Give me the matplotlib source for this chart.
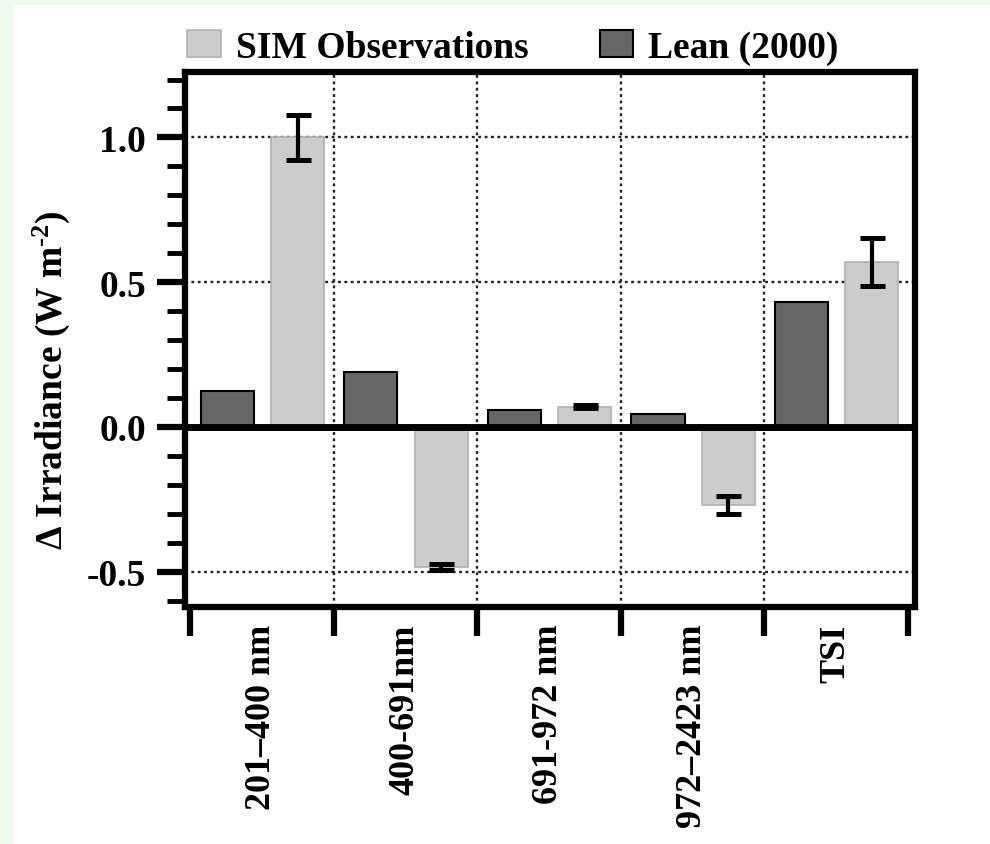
import matplotlib
matplotlib.use("Agg")
import matplotlib.pyplot as plt
import numpy as np
from matplotlib.patches import Rectangle
from matplotlib.ticker import MultipleLocator

# data
categories = ["201–400 nm", "400-691nm", "691-972 nm", "972–2423 nm", "TSI"]
sim = [1.00, -0.485, 0.07, -0.27, 0.57]
sim_err = [0.078, 0.01, 0.005, 0.031, 0.083]
lean = [0.125, 0.19, 0.06, 0.045, 0.433]

plt.rcParams["font.family"] = ["Liberation Serif", "DejaVu Serif"]
plt.rcParams["font.weight"] = "bold"
plt.rcParams["axes.labelweight"] = "bold"
plt.rcParams["mathtext.fontset"] = "custom"
plt.rcParams["mathtext.rm"] = "Liberation Serif:bold"
plt.rcParams["mathtext.bf"] = "Liberation Serif:bold"
plt.rcParams["mathtext.default"] = "bf"

fig = plt.figure(figsize=(9.9, 8.45), dpi=100)
fig.patch.set_facecolor("#f0fbef")
# white panel
fig.patches.append(Rectangle((14 / 990, 0), 1, 1 - 6 / 845, transform=fig.transFigure,
                             facecolor="white", edgecolor="none", zorder=-10))

ax = fig.add_axes([185 / 990, 1 - 608 / 845, 730 / 990, 535 / 845])
ax.set_facecolor("white")

x = np.arange(len(categories))
w = 0.37
ax.bar(x - 0.24, lean, w, color="#666666", edgecolor="black", linewidth=1.5,
       label="Lean (2000)", zorder=3)
ax.bar(x + 0.25, sim, w, color="#cccccc", edgecolor="#b0b0b0", linewidth=1.2,
       label="SIM Observations", zorder=3)
ax.errorbar(x + 0.25, sim, yerr=sim_err, fmt="none", ecolor="black", elinewidth=3,
            capsize=9, capthick=3.6, zorder=4)

ax.axhline(0, color="black", linewidth=5, zorder=5)

ax.set_xlim(-0.535, 4.55)
ax.set_ylim(-0.622, 1.226)

# grid
for yv in [1.0, 0.5, -0.5]:
    ax.axhline(yv, color="#222222", linestyle=(0, (1.2, 1.5)), linewidth=1.7, zorder=1)
for xv in [0.5, 1.5, 2.5, 3.5]:
    ax.axvline(xv, color="#222222", linestyle=(0, (1.2, 1.5)), linewidth=1.7, zorder=1)

for s in ax.spines.values():
    s.set_linewidth(4.5)

ax.yaxis.set_major_locator(MultipleLocator(0.5))
ax.yaxis.set_minor_locator(MultipleLocator(0.1))
ax.set_yticks([-0.5, 0.0, 0.5, 1.0])
ax.set_yticklabels(["-0.5", "0.0", "0.5", "1.0"])
ax.tick_params(axis="y", which="major", direction="out", length=20, width=4.5,
               labelsize=27, pad=8)
ax.tick_params(axis="y", which="minor", direction="out", length=13, width=3.5)

ax.set_xticks(np.arange(-0.5, len(categories), 1.0))
ax.set_xticklabels([])
ax.set_xticks(x, minor=True)
ax.set_xticklabels(categories, minor=True, rotation=90, fontsize=26, va="top")
ax.tick_params(axis="x", which="major", direction="out", length=21, width=4.5)
ax.tick_params(axis="x", which="minor", length=0, pad=12)

ax.set_ylabel(r"Δ Irradiance (W m$^{\text{-2}}$)", fontsize=27, fontweight="bold")
ax.yaxis.set_label_coords(-0.155, 0.426)

handles, labels = ax.get_legend_handles_labels()
fig.legend(handles[::-1], labels[::-1], loc="center", bbox_to_anchor=(0.518, 0.943),
           ncol=2, frameon=False, fontsize=27, handlelength=0.9, handleheight=0.7,
           handletextpad=0.4, columnspacing=1.9, borderaxespad=0)

fig.savefig("out.png", dpi=100, facecolor=fig.get_facecolor())
